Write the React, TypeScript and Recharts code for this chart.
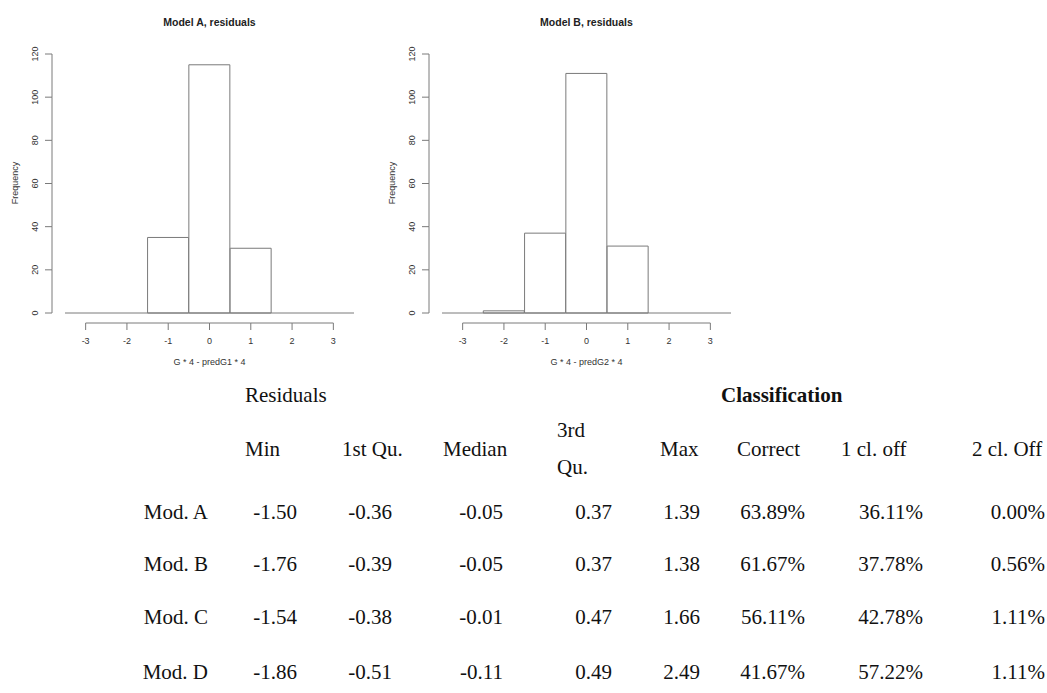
import { Bar, BarChart, ReferenceLine, XAxis, YAxis } from "recharts";

const BINS = [-3, -2, -1, 0, 1, 2, 3];
const COUNTS_A = [0, 0, 35, 115, 30, 0, 0];
const COUNTS_B = [0, 1, 37, 111, 31, 0, 0];
const Y_TICKS = [0, 20, 40, 60, 80, 100, 120];

const ROW_LABELS = ["Mod. A", "Mod. B", "Mod. C", "Mod. D"];
const MIN_VALS = [-1.5, -1.76, -1.54, -1.86];
const Q1_VALS = [-0.36, -0.39, -0.38, -0.51];
const MEDIAN_VALS = [-0.05, -0.05, -0.01, -0.11];
const Q3_VALS = [0.37, 0.37, 0.47, 0.49];
const MAX_VALS = [1.39, 1.38, 1.66, 2.49];
const CORRECT = [63.89, 61.67, 56.11, 41.67];
const ONE_OFF = [36.11, 37.78, 42.78, 57.22];
const TWO_OFF = [0.0, 0.56, 1.11, 1.11];

const CHART_W = 370;
const CHART_H = 380;
const MARGIN = { top: 54, right: 16, left: 25, bottom: 27 };
const Y_AXIS_W = 40;
const X_AXIS_H = 40;
const PLOT_W = CHART_W - MARGIN.left - MARGIN.right - Y_AXIS_W;
const PLOT_H = CHART_H - MARGIN.top - MARGIN.bottom - X_AXIS_H;
const BAND = PLOT_W / BINS.length;
const Y_STEP = PLOT_H / (Y_TICKS.length - 1);

const LINE = "#7a7a7a";
const AXIS_TEXT = "#333";
const SANS = "'Liberation Sans', Arial, sans-serif";
const SERIF = "'Liberation Serif', 'Times New Roman', serif";

function XTick({ x, y, payload, index }: any) {
  const lineY = y + 10;
  return (
    <g>
      {index < BINS.length - 1 && (
        <line x1={x} x2={x + BAND} y1={lineY} y2={lineY} stroke={LINE} />
      )}
      <line x1={x} x2={x} y1={lineY} y2={lineY + 7} stroke={LINE} />
      <text
        x={x}
        y={lineY + 21}
        textAnchor="middle"
        fontSize={9}
        fontFamily={SANS}
        fill={AXIS_TEXT}
      >
        {payload.value}
      </text>
    </g>
  );
}

function YTick({ x, y, payload }: any) {
  const ax = x - 13;
  return (
    <g>
      {payload.value < Y_TICKS[Y_TICKS.length - 1] && (
        <line x1={ax} x2={ax} y1={y} y2={y - Y_STEP} stroke={LINE} />
      )}
      <line x1={ax - 7} x2={ax} y1={y} y2={y} stroke={LINE} />
      <text
        transform={`rotate(-90 ${ax - 14} ${y})`}
        x={ax - 14}
        y={y}
        textAnchor="middle"
        fontSize={9}
        fontFamily={SANS}
        fill={AXIS_TEXT}
      >
        {payload.value}
      </text>
    </g>
  );
}

function Histogram({
  left,
  title,
  xLabel,
  counts,
}: {
  left: number;
  title: string;
  xLabel: string;
  counts: number[];
}) {
  const data = BINS.map((bin, i) => ({ bin, count: counts[i] }));
  const cx = MARGIN.left + Y_AXIS_W + PLOT_W / 2;
  return (
    <div style={{ position: "absolute", left, top: 0, width: CHART_W, height: CHART_H }}>
      <div
        style={{
          position: "absolute",
          left: cx - 100,
          width: 200,
          top: 16,
          lineHeight: "12px",
          textAlign: "center",
          fontFamily: SANS,
          fontWeight: "bold",
          fontSize: 10.5,
          color: "#222",
        }}
      >
        {title}
      </div>
      <div
        style={{
          position: "absolute",
          left: 15 - 50,
          width: 100,
          top: 183 - 6,
          lineHeight: "12px",
          textAlign: "center",
          fontFamily: SANS,
          fontSize: 9,
          color: AXIS_TEXT,
          transform: "rotate(-90deg)",
        }}
      >
        Frequency
      </div>
      <div
        style={{
          position: "absolute",
          left: cx - 100,
          width: 200,
          top: 356,
          lineHeight: "12px",
          textAlign: "center",
          fontFamily: SANS,
          fontSize: 9,
          color: AXIS_TEXT,
        }}
      >
        {xLabel}
      </div>
      <BarChart
        width={CHART_W}
        height={CHART_H}
        data={data}
        margin={MARGIN}
        barCategoryGap={0}
        barGap={0}
      >
        <XAxis
          dataKey="bin"
          type="category"
          height={X_AXIS_H}
          axisLine={false}
          tickLine={false}
          tickSize={0}
          tickMargin={0}
          interval={0}
          tick={<XTick />}
        />
        <YAxis
          type="number"
          domain={[0, 120]}
          ticks={Y_TICKS}
          width={Y_AXIS_W}
          axisLine={false}
          tickLine={false}
          tickSize={0}
          tickMargin={0}
          interval={0}
          tick={<YTick />}
        />
        <Bar
          dataKey="count"
          fill="#ffffff"
          stroke={LINE}
          strokeWidth={1}
          isAnimationActive={false}
        />
        <ReferenceLine y={0} stroke={LINE} />
      </BarChart>
    </div>
  );
}

const COLS = [
  { values: MIN_VALS, right: 297, pct: false },
  { values: Q1_VALS, right: 392, pct: false },
  { values: MEDIAN_VALS, right: 503, pct: false },
  { values: Q3_VALS, right: 612, pct: false },
  { values: MAX_VALS, right: 700, pct: false },
  { values: CORRECT, right: 805, pct: true },
  { values: ONE_OFF, right: 923, pct: true },
  { values: TWO_OFF, right: 1045, pct: true },
];
const ROW_BASE = [519, 571, 624, 679];

function SummaryTable() {
  const top = 380;
  const t = { fontFamily: SERIF, fontSize: 21, fill: "#111" };
  return (
    <svg
      width={1047}
      height={693 - top}
      style={{ position: "absolute", left: 0, top }}
    >
      <text x={245} y={402 - top} {...t}>Residuals</text>
      <text x={721} y={402 - top} {...t} fontWeight="bold">Classification</text>
      <text x={245} y={456 - top} {...t}>Min</text>
      <text x={342} y={456 - top} {...t}>1st Qu.</text>
      <text x={443} y={456 - top} {...t}>Median</text>
      <text x={557} y={437 - top} {...t}>3rd</text>
      <text x={557} y={474 - top} {...t}>Qu.</text>
      <text x={660} y={456 - top} {...t}>Max</text>
      <text x={737} y={456 - top} {...t}>Correct</text>
      <text x={841} y={456 - top} {...t}>1 cl. off</text>
      <text x={972} y={456 - top} {...t}>2 cl. Off</text>
      {ROW_LABELS.map((label, r) => (
        <g key={label}>
          <text x={208} y={ROW_BASE[r] - top} textAnchor="end" {...t}>
            {label}
          </text>
          {COLS.map((col, c) => (
            <text
              key={c}
              x={col.right}
              y={ROW_BASE[r] - top}
              textAnchor="end"
              {...t}
            >
              {col.values[r].toFixed(2) + (col.pct ? "%" : "")}
            </text>
          ))}
        </g>
      ))}
    </svg>
  );
}

export default function App() {
  return (
    <div
      style={{
        position: "absolute",
        left: 0,
        top: 0,
        width: 1047,
        height: 693,
        background: "#fff",
      }}
    >
      <Histogram
        left={0}
        title="Model A, residuals"
        xLabel="G * 4 - predG1 * 4"
        counts={COUNTS_A}
      />
      <Histogram
        left={377}
        title="Model B, residuals"
        xLabel="G * 4 - predG2 * 4"
        counts={COUNTS_B}
      />
      <SummaryTable />
    </div>
  );
}
